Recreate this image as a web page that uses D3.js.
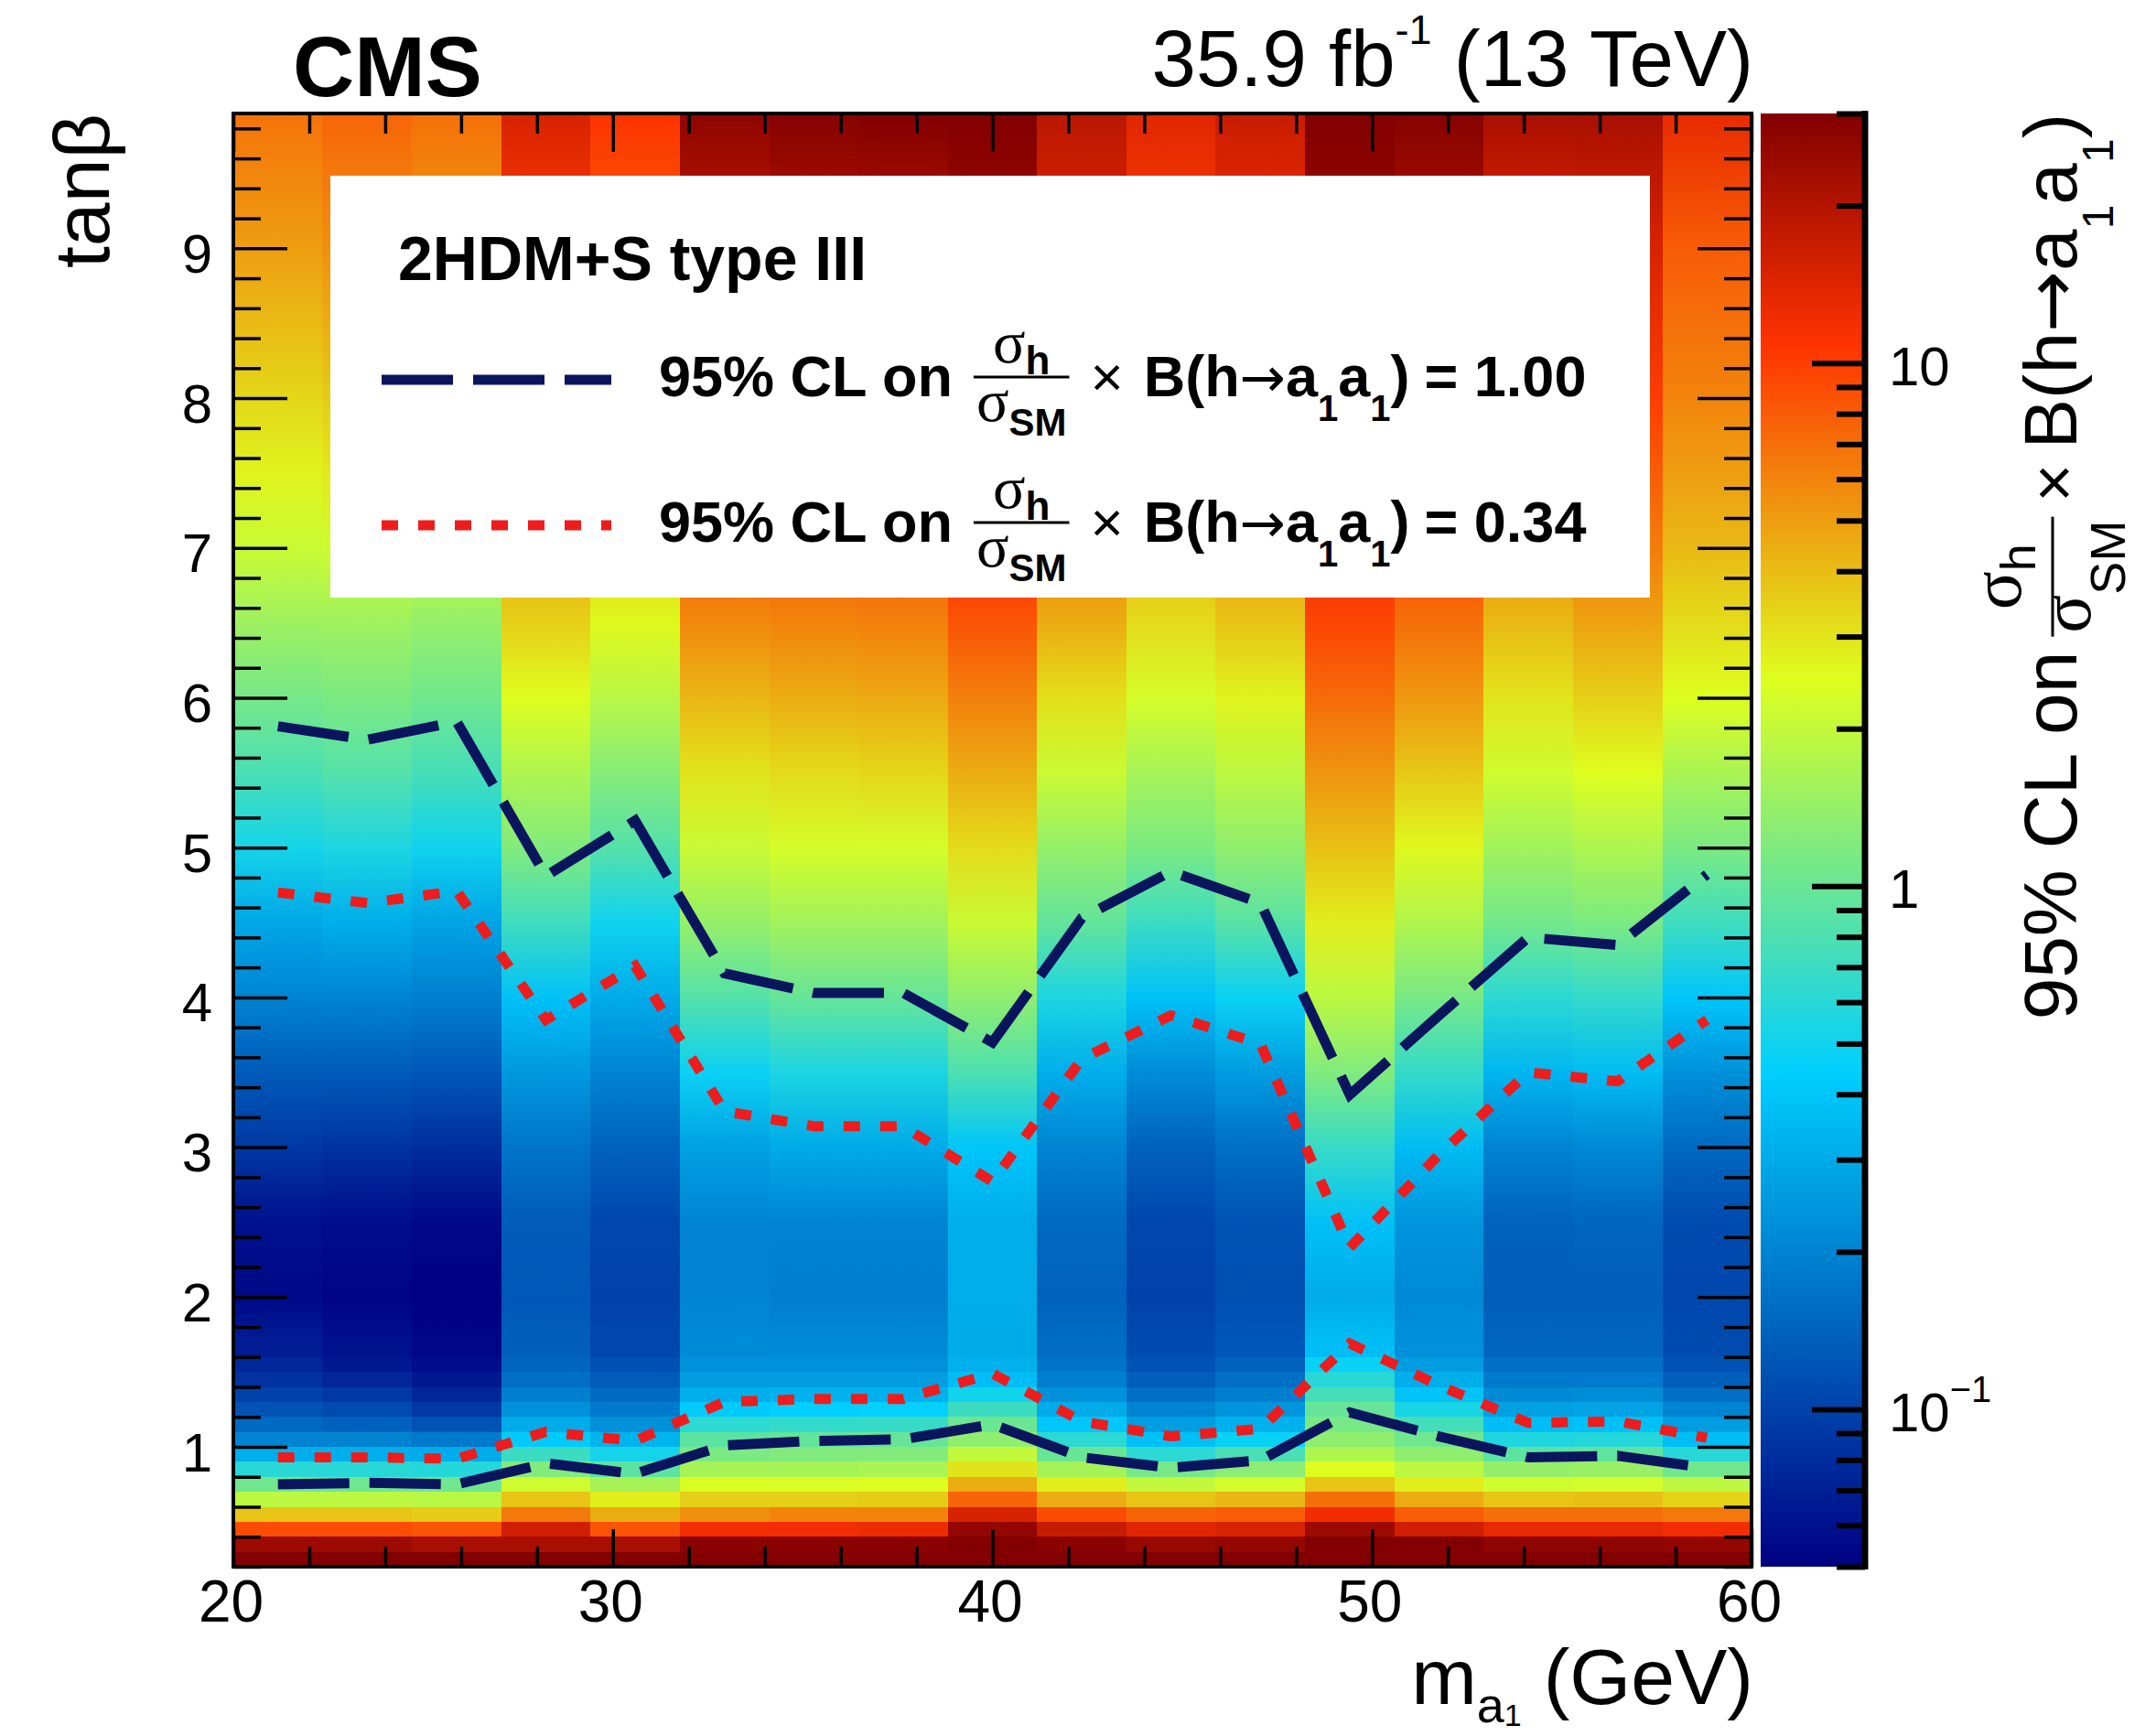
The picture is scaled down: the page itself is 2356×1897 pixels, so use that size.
<!DOCTYPE html>
<html lang="en">
<head>
<meta charset="utf-8">
<title>2HDM+S type III: limits in the m_a1 - tan beta plane</title>
<script src="https://cdn.jsdelivr.net/npm/d3@7"></script>
<style>
  body { margin: 0; background: #fff; }
  svg { display: block; }
  text { font-family: "Liberation Sans", Arial, Helvetica, sans-serif; fill: #000; white-space: pre; }
  .axis line { stroke: #000; stroke-width: 3.5px; }
  .zaxis line { stroke: #000; stroke-width: 6px; }
</style>
</head>
<body>
<script>

var w = 2356;
var h = 1897;

// mass bins (GeV) of the 2D histogram
var massEdges = [20, 22.35, 24.71, 27.06, 29.41, 31.76, 34.12, 36.47, 38.82, 41.18,
                 43.53, 45.88, 48.24, 50.59, 52.94, 55.29, 57.65, 60];
var massTicks = [20, 30, 40, 50, 60];
var tanbTicks = [1, 2, 3, 4, 5, 6, 7, 8, 9];

// low tan(beta) rows (0.1 wide), one limit value per mass bin per row
var tanbRows = [0.25, 0.35, 0.45, 0.55, 0.65, 0.75, 0.85, 0.95, 1.05, 1.15, 1.25, 1.35, 1.45, 1.55, 1.65];
var limitRows = [
  [32, 24, 9, 3.8, 1.9, 1.05, 0.6, 0.31, 0.2, 0.15, 0.12, 0.1, 0.085, 0.075, 0.068],
  [32, 24, 9, 3.8, 1.9, 1.05, 0.6, 0.31, 0.2, 0.14, 0.11, 0.09, 0.075, 0.065, 0.06],
  [30, 22, 8.5, 3.6, 1.85, 1.05, 0.58, 0.3, 0.18, 0.12, 0.09, 0.075, 0.065, 0.058, 0.054],
  [30, 22, 16, 6.5, 3.8, 2.2, 1.2, 0.7, 0.42, 0.3, 0.23, 0.19, 0.16, 0.145, 0.135],
  [30, 22, 8.5, 4.5, 2.8, 1.6, 0.9, 0.52, 0.33, 0.23, 0.18, 0.15, 0.13, 0.115, 0.105],
  [30, 28, 12, 5.5, 3.5, 2.4, 1.6, 1.15, 0.9, 0.62, 0.42, 0.31, 0.26, 0.23, 0.215],
  [30, 28, 12, 6, 3.5, 2.4, 1.6, 1.2, 0.95, 0.66, 0.44, 0.32, 0.26, 0.23, 0.21],
  [30, 28, 12.5, 6, 3.6, 2.5, 1.65, 1.22, 0.97, 0.67, 0.45, 0.32, 0.26, 0.23, 0.21],
  [30, 30, 26, 15, 7.5, 4.5, 3.0, 2.0, 1.35, 1.02, 0.7, 0.5, 0.37, 0.32, 0.3],
  [30, 28, 17, 9, 4.5, 2.8, 1.6, 1.0, 0.62, 0.4, 0.3, 0.23, 0.19, 0.17, 0.155],
  [30, 25, 14, 7.5, 3.8, 2.0, 1.1, 0.62, 0.38, 0.26, 0.2, 0.16, 0.135, 0.12, 0.11],
  [30, 26, 15, 8, 4.2, 2.3, 1.3, 0.78, 0.47, 0.32, 0.24, 0.19, 0.16, 0.14, 0.125],
  [30, 30, 24, 12, 7, 3.8, 2.5, 1.7, 1.35, 1.12, 0.97, 0.76, 0.6, 0.47, 0.37],
  [30, 30, 16, 8, 4.5, 2.8, 1.9, 1.35, 1.05, 0.75, 0.53, 0.39, 0.31, 0.26, 0.23],
  [30, 27, 13, 7, 3.8, 2.2, 1.4, 0.9, 0.56, 0.37, 0.27, 0.21, 0.18, 0.16, 0.145],
  [30, 27, 13, 7, 3.9, 2.3, 1.45, 0.92, 0.58, 0.38, 0.28, 0.22, 0.18, 0.16, 0.145],
  [30, 26, 12, 6.5, 3.4, 1.9, 1.05, 0.6, 0.37, 0.26, 0.2, 0.16, 0.135, 0.12, 0.11]
];

// higher tan(beta): values read at these points, colour runs smoothly in between
var tanbKnots = [2.0, 2.5, 3.0, 3.5, 4.0, 4.5, 5.0, 5.5, 6.0, 6.5, 7.0, 7.5, 8.0, 9.0, 9.9];
var limitKnots = [
  [0.055, 0.06, 0.09, 0.13, 0.2, 0.29, 0.52, 0.78, 1.1, 1.5, 2.1, 2.7, 3.3, 5, 6.8],
  [0.052, 0.058, 0.085, 0.13, 0.2, 0.31, 0.55, 0.85, 1.15, 1.5, 2.2, 2.9, 3.6, 5.5, 7.5],
  [0.05, 0.055, 0.08, 0.125, 0.19, 0.28, 0.5, 0.76, 1.05, 1.4, 2.0, 2.6, 3.3, 5, 7],
  [0.125, 0.13, 0.17, 0.25, 0.38, 0.72, 1.2, 1.7, 2.5, 3.5, 4.5, 5.5, 7, 10, 15],
  [0.1, 0.105, 0.14, 0.2, 0.3, 0.5, 0.85, 1.25, 1.85, 2.6, 3.4, 4.3, 5.3, 7.8, 11],
  [0.2, 0.2, 0.27, 0.48, 0.85, 1.4, 2.1, 3.0, 4.2, 5.8, 7.5, 9.5, 12, 18, 27],
  [0.19, 0.2, 0.3, 0.55, 0.97, 1.55, 2.3, 3.2, 4.5, 6, 8, 10, 13, 20, 29],
  [0.19, 0.2, 0.3, 0.55, 0.97, 1.55, 2.3, 3.3, 4.6, 6.2, 8, 10, 13, 20, 30],
  [0.31, 0.31, 0.4, 0.8, 1.35, 2.1, 3.2, 4.5, 6.2, 8.5, 11, 14, 17, 24, 30],
  [0.14, 0.15, 0.2, 0.31, 0.55, 0.95, 1.4, 2.1, 3.1, 4.5, 5.8, 7.5, 9.5, 14, 19],
  [0.1, 0.105, 0.14, 0.22, 0.38, 0.7, 1.15, 1.6, 2.3, 3.2, 4.2, 5.3, 6.6, 9.8, 14],
  [0.115, 0.12, 0.16, 0.26, 0.48, 0.88, 1.35, 1.9, 2.7, 3.8, 5, 6.4, 8, 12, 17],
  [0.3, 0.38, 0.68, 1.2, 1.9, 2.8, 3.9, 5.3, 7.2, 9.5, 12, 15, 18, 25, 30],
  [0.21, 0.24, 0.36, 0.66, 1.12, 1.75, 2.6, 3.7, 5.2, 7, 9, 11.5, 14, 21, 29],
  [0.135, 0.14, 0.2, 0.34, 0.62, 1.08, 1.55, 2.2, 3, 4.1, 5.5, 7.2, 9.2, 14, 22],
  [0.135, 0.145, 0.21, 0.36, 0.66, 1.15, 1.7, 2.5, 3.5, 4.8, 6.3, 8, 10, 15, 22],
  [0.105, 0.11, 0.15, 0.23, 0.4, 0.72, 1.15, 1.65, 2.5, 3.2, 4.1, 5, 6, 8, 13]
];

// exclusion contours, tan(beta) at each mass bin centre
var tanbUp100  = [5.81, 5.72, 5.84, 4.81, 5.18, 4.16, 4.03, 4.03, 3.70, 4.53, 4.84, 4.63, 3.35, 3.88, 4.40, 4.35, 4.82];
var tanbUp034  = [4.70, 4.63, 4.71, 3.85, 4.21, 3.24, 3.14, 3.14, 2.77, 3.59, 3.88, 3.69, 2.33, 2.95, 3.50, 3.44, 3.85];
var tanbLow034 = [0.93, 0.93, 0.92, 1.10, 1.04, 1.30, 1.32, 1.32, 1.49, 1.17, 1.07, 1.12, 1.69, 1.41, 1.16, 1.17, 1.06];
var tanbLow100 = [0.75, 0.76, 0.75, 0.89, 0.82, 1.01, 1.04, 1.05, 1.15, 0.93, 0.86, 0.91, 1.23, 1.07, 0.93, 0.94, 0.86];

// z axis
var zRange = [0.05, 30];
var zMajorTicks = [0.1, 1, 10];
var zMinorTicks = [0.05, 0.06, 0.07, 0.08, 0.09, 0.2, 0.3, 0.4, 0.5, 0.6, 0.7, 0.8, 0.9,
                   2, 3, 4, 5, 6, 7, 8, 9, 20, 30];
var zTickLabels = [["10", "\u22121"], ["1", ""], ["10", ""]];

// colour palette (position along the log z axis -> colour)
var paletteStops = [0, 0.34, 0.61, 0.84, 1];
var paletteColors = ["#000082", "#00cfff", "#deff1f", "#ff3300", "#820000"];

var pLeft = 255, pRight = 1914, pTop = 124, pBottom = 1712;
var rowHalf = 0.05;

var xScale = d3.scaleLinear().domain([20, 60]).range([pLeft, pRight]);
var yScale = d3.scaleLinear().domain([0.2, 9.9]).range([pBottom, pTop]);
var zPos = d3.scaleLog().domain(zRange).range([0, 1]).clamp(true);
var zPalette = d3.scaleLinear().domain(paletteStops).range(paletteColors).interpolate(d3.interpolateRgb);
var zScale = d3.scaleLog().domain(zRange).range([pBottom, pTop]);
function zColor(z) { return zPalette(zPos(z)); }

var svg = d3.select("body").append("svg").attr("width", w).attr("height", h);
svg.append("rect").attr("width", w).attr("height", h).attr("fill", "#fff");
var defs = svg.append("defs");

//Heat map: one gradient per mass column
var plotH = pBottom - pTop;
massEdges.slice(0, -1).forEach(function(m, i) {
  var stops = [];
  for (var j = tanbKnots.length - 1; j >= 0; j--) {
    stops.push([yScale(tanbKnots[j]), zColor(limitKnots[i][j])]);
  }
  for (var k = tanbRows.length - 1; k >= 0; k--) {
    var c = zColor(limitRows[i][k]);
    stops.push([yScale(tanbRows[k] + rowHalf), c]);
    stops.push([yScale(tanbRows[k] - rowHalf), c]);
  }
  defs.append("linearGradient")
      .attr("id", "col" + i)
      .attr("gradientUnits", "userSpaceOnUse")
      .attr("x1", 0).attr("x2", 0)
      .attr("y1", pTop).attr("y2", pBottom)
    .selectAll("stop")
      .data(stops)
      .enter()
      .append("stop")
      .attr("offset", function(d) { return Math.max(0, Math.min(1, (d[0] - pTop) / plotH)); })
      .attr("stop-color", function(d) { return d[1]; });
});

svg.append("g")
  .selectAll("rect")
  .data(d3.range(massEdges.length - 1))
  .enter()
  .append("rect")
  .attr("x", function(i) { return xScale(massEdges[i]); })
  .attr("width", function(i) { return xScale(massEdges[i + 1]) - xScale(massEdges[i]) + 0.5; })
  .attr("y", pTop)
  .attr("height", plotH)
  .attr("shape-rendering", "crispEdges")
  .attr("fill", function(i) { return "url(#col" + i + ")"; });

//Contours
var massCenters = massEdges.slice(0, -1).map(function(m, i) { return (m + massEdges[i + 1]) / 2; });
var contour = d3.line()
  .x(function(d, i) { return xScale(massCenters[i]); })
  .y(function(d) { return yScale(d); });

var blueStyle = {color: "#0b155e", dash: "78,22"};
var redStyle = {color: "#ee1c1c", dash: "18,22"};
[[tanbUp100, blueStyle], [tanbLow100, blueStyle], [tanbUp034, redStyle], [tanbLow034, redStyle]]
  .forEach(function(c) {
    svg.append("path")
      .attr("d", contour(c[0]))
      .attr("fill", "none")
      .attr("stroke", c[1].color)
      .attr("stroke-width", 11)
      .attr("stroke-dasharray", c[1].dash);
  });

//Axes
var massMinor = d3.range(22, 60, 2).filter(function(v) { return v % 10 !== 0; });
var tanbMinor = d3.range(2, 99, 2).map(function(v) { return v / 10; })
  .filter(function(v) { return Math.abs(v - Math.round(v)) > 0.01; });

function addAxis(axis, tx, ty) {
  var g = svg.append("g").attr("class", "axis")
    .attr("transform", "translate(" + tx + "," + ty + ")")
    .call(axis);
  g.select(".domain").remove();
  return g;
}

var xAxisG = addAxis(d3.axisBottom(xScale).tickValues(massTicks).tickSizeInner(-41).tickSizeOuter(0), 0, pBottom);
xAxisG.selectAll("text").attr("y", 60).attr("dy", null).attr("x", -3).style("font-size", "64px");
addAxis(d3.axisBottom(xScale).tickValues(massMinor).tickSizeInner(-22).tickSizeOuter(0).tickFormat(""), 0, pBottom);
addAxis(d3.axisTop(xScale).tickValues(massTicks).tickSizeInner(-42).tickSizeOuter(0).tickFormat(""), 0, pTop);
addAxis(d3.axisTop(xScale).tickValues(massMinor).tickSizeInner(-22).tickSizeOuter(0).tickFormat(""), 0, pTop);

var yAxisG = addAxis(d3.axisLeft(yScale).tickValues(tanbTicks).tickSizeInner(-59).tickSizeOuter(0), pLeft, 0);
yAxisG.selectAll("text").attr("x", -23).attr("dy", null).attr("y", 26).style("font-size", "60px");
addAxis(d3.axisLeft(yScale).tickValues(tanbMinor).tickSizeInner(-30).tickSizeOuter(0).tickFormat(""), pLeft, 0);
addAxis(d3.axisRight(yScale).tickValues(tanbTicks).tickSizeInner(-59).tickSizeOuter(0).tickFormat(""), pRight, 0);
addAxis(d3.axisRight(yScale).tickValues(tanbMinor).tickSizeInner(-30).tickSizeOuter(0).tickFormat(""), pRight, 0);

svg.append("rect")
  .attr("x", pLeft).attr("y", pTop)
  .attr("width", pRight - pLeft).attr("height", plotH)
  .attr("fill", "none").attr("stroke", "#000").attr("stroke-width", 4);

//Colour bar
var barX = 1924, barR = 2038;
var barGrad = defs.append("linearGradient")
  .attr("id", "zbar")
  .attr("gradientUnits", "userSpaceOnUse")
  .attr("x1", 0).attr("x2", 0).attr("y1", pBottom).attr("y2", pTop);
barGrad.selectAll("stop")
  .data(paletteStops)
  .enter()
  .append("stop")
  .attr("offset", function(d) { return d; })
  .attr("stop-color", function(d, i) { return paletteColors[i]; });
svg.append("rect")
  .attr("x", barX).attr("y", pTop)
  .attr("width", barR - barX).attr("height", plotH)
  .attr("fill", "url(#zbar)");

var zMajG = svg.append("g").attr("class", "zaxis").attr("transform", "translate(" + barR + ",0)")
  .call(d3.axisRight(zScale).tickValues(zMajorTicks).tickSizeInner(-58).tickSizeOuter(0).tickFormat(""));
zMajG.select(".domain").remove();
var zMinG = svg.append("g").attr("class", "zaxis").attr("transform", "translate(" + barR + ",0)")
  .call(d3.axisRight(zScale).tickValues(zMinorTicks).tickSizeInner(-31).tickSizeOuter(0).tickFormat(""));
zMinG.select(".domain").remove();
svg.append("line")
  .attr("x1", barR).attr("x2", barR).attr("y1", pTop - 3).attr("y2", pBottom + 3)
  .attr("stroke", "#000").attr("stroke-width", 7);

zMajorTicks.forEach(function(v, i) {
  var t = svg.append("text")
    .attr("x", 2064).attr("y", zScale(v) + 24)
    .style("font-size", "60px")
    .text(zTickLabels[i][0]);
  if (zTickLabels[i][1]) {
    t.append("tspan").attr("dy", -32).style("font-size", "40px").text(zTickLabels[i][1]);
  }
});

//Rich text helper: pieces laid out left to right, fractions stacked
function drawRich(g, x, y, parts) {
  var cx = x;
  parts.forEach(function(p) {
    if (p.frac) {
      var ng = g.append("g"), dg = g.append("g");
      var nw = drawRich(ng, 0, y + p.numDy, p.num);
      var dw = drawRich(dg, 0, y + p.denDy, p.den);
      var fw = Math.max(nw, dw) + 2 * p.pad;
      ng.attr("transform", "translate(" + (cx + (fw - nw) / 2) + ",0)");
      dg.attr("transform", "translate(" + (cx + (fw - dw) / 2) + ",0)");
      g.append("line")
        .attr("x1", cx).attr("x2", cx + fw)
        .attr("y1", y + p.barDy).attr("y2", y + p.barDy)
        .attr("stroke", "#000").attr("stroke-width", p.bar);
      cx += fw + (p.gap || 0);
    } else {
      var t = g.append("text")
        .attr("x", cx).attr("y", y + (p.dy || 0))
        .style("font-size", p.size + "px")
        .style("font-weight", p.bold ? "bold" : "normal")
        .text(p.t);
      if (p.serif) t.style("font-family", "'Liberation Serif', 'DejaVu Serif', serif");
      if (p.sym) t.style("font-family", "'DejaVu Sans', sans-serif");
      cx += t.node().getComputedTextLength() + (p.gap || 0);
    }
  });
  return cx - x;
}

//Titles
svg.append("text").attr("x", 320).attr("y", 105)
  .style("font-size", "93px").style("font-weight", "bold").text("CMS");

var lumi = svg.append("text").attr("x", 1916).attr("y", 94)
  .attr("text-anchor", "end").style("font-size", "87px");
lumi.append("tspan").text("35.9 fb");
lumi.append("tspan").attr("dy", -46).style("font-size", "45px").text("-1");
lumi.append("tspan").attr("dy", 46).text(" (13 TeV)");

svg.append("text")
  .attr("transform", "translate(119," + pTop + ") rotate(-90)")
  .attr("text-anchor", "end")
  .style("font-size", "86px")
  .text("tan\u03b2");

var xTitle = svg.append("text").attr("x", 1916).attr("y", 1862)
  .attr("text-anchor", "end").style("font-size", "86px");
xTitle.append("tspan").text("m");
xTitle.append("tspan").attr("dy", 20).style("font-size", "54px").text("a");
xTitle.append("tspan").attr("dy", 4).style("font-size", "34px").text("1");
xTitle.append("tspan").attr("dy", -24).text(" (GeV)");

var zTitle = svg.append("g");
var zTitleLen = drawRich(zTitle, 0, 0, [
  {t: "95% CL on", size: 82, gap: 16},
  {frac: true, pad: 4, bar: 3, gap: 16, numDy: -61, denDy: 15, barDy: -26,
   num: [{t: "\u03c3", size: 78, serif: true}, {t: "h", size: 54, dy: 16}],
   den: [{t: "\u03c3", size: 78, serif: true}, {t: "SM", size: 54, dy: 38}]},
  {t: "\u00d7", size: 72, gap: 16},
  {t: "B(h", size: 82},
  {t: "\u2192", size: 80, sym: true},
  {t: "a", size: 82},
  {t: "1", size: 48, dy: 40},
  {t: "a", size: 82},
  {t: "1", size: 48, dy: 40},
  {t: ")", size: 82}
]);
zTitle.attr("transform", "translate(2269," + (pTop + zTitleLen) + ") rotate(-90)");

//Legend
var legend = svg.append("g");
legend.append("rect")
  .attr("x", 361).attr("y", 192).attr("width", 1442).attr("height", 461)
  .attr("fill", "#fff");
legend.append("text").attr("x", 435).attr("y", 306)
  .style("font-size", "68px").style("font-weight", "bold").text("2HDM+S type III");

var legendEntries = [
  {y: 433, style: blueStyle, value: "1.00"},
  {y: 592, style: redStyle, value: "0.34"}
];
legendEntries.forEach(function(e) {
  legend.append("line")
    .attr("x1", 417).attr("x2", 668).attr("y1", e.y - 18).attr("y2", e.y - 18)
    .attr("stroke", e.style.color).attr("stroke-width", 11)
    .attr("stroke-dasharray", e.style.dash);
  drawRich(legend, 720, e.y, [
    {t: "95% CL on", size: 63, bold: true, gap: 23},
    {frac: true, pad: 3, bar: 3, gap: 23, numDy: -37, denDy: 27, barDy: -21,
     num: [{t: "\u03c3", size: 66, serif: true}, {t: "h", size: 44, bold: true, dy: 13}],
     den: [{t: "\u03c3", size: 66, serif: true}, {t: "SM", size: 42, bold: true, dy: 16}]},
    {t: "\u00d7", size: 62, gap: 22},
    {t: "B(h", size: 63, bold: true},
    {t: "\u2192", size: 60, sym: true},
    {t: "a", size: 63, bold: true},
    {t: "1", size: 40, bold: true, dy: 27},
    {t: "a", size: 63, bold: true},
    {t: "1", size: 40, bold: true, dy: 27},
    {t: ")", size: 63, bold: true, gap: 16},
    {t: "= " + e.value, size: 63, bold: true}
  ]);
});

</script>
</body>
</html>
